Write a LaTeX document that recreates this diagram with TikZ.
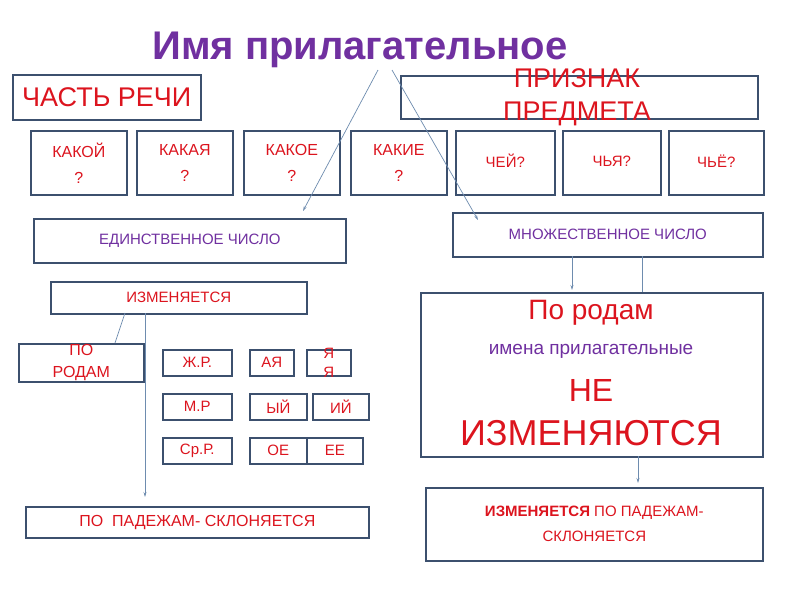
\documentclass[tikz,border=0pt]{standalone}
\usepackage{fontspec}
\setmainfont{Liberation Sans}
\usetikzlibrary{arrows.meta}
\definecolor{bx}{RGB}{60,80,110}
\definecolor{rd}{RGB}{220,20,30}
\definecolor{pu}{RGB}{112,48,160}
\definecolor{ln}{RGB}{110,140,175}
\tikzset{
 bxs/.style={draw=bx,line width=1.6pt,inner sep=0pt,anchor=north west},
 red14/.style={text=rd,font=\fontsize{15}{18}\selectfont},
 qq/.style={text=rd,align=center,font=\fontsize{16}{26}\selectfont},
 cn/.style={draw=ln,line width=0.7pt},
 ar/.style={cn,-{Stealth[length=5pt,width=3pt]}}
}
\newcommand\bxx[5]{\node[bxs,minimum width=#4-#2,minimum height=#5-#3] (#1) at (#2,#3) {};}
\begin{document}
\begin{tikzpicture}[x=1pt,y=-1pt]
\useasboundingbox (0,0) rectangle (800,600);
\fill[white] (0,0) rectangle (800,600);
\bxx{cr}{12}{74}{200}{119}
\bxx{pr}{400}{75}{757}{118}
\bxx{q1}{30}{130}{126}{194}
\bxx{q2}{136}{130}{232}{194}
\bxx{q3}{243}{130}{339}{194}
\bxx{q4}{350}{130}{446}{194}
\bxx{q5}{455}{130}{554}{194}
\bxx{q6}{562}{130}{660}{194}
\bxx{q7}{668}{130}{763}{194}
\bxx{ed}{33}{218}{345}{262}
\bxx{mn}{452}{212}{762}{256}
\bxx{iz}{50}{281}{306}{313}
\bxx{big}{420}{292}{762}{456}
\bxx{pr2}{18}{343}{143}{381}
\bxx{zr}{162}{349}{231}{375}
\bxx{aya}{249}{349}{293}{375}
\bxx{yaya}{306}{349}{350}{375}
\bxx{mr}{162}{393}{231}{419}
\bxx{yj}{249}{393}{306}{419}
\bxx{ij}{312}{393}{368}{419}
\bxx{sr}{162}{437}{231}{463}
\bxx{oe}{249}{437}{306}{463}
\bxx{ee}{306}{437}{362}{463}
\bxx{pp}{25}{506}{368}{537}
\bxx{br}{425}{487}{762}{560}
% texts
\node[text=pu,font=\bfseries\fontsize{40}{44}\selectfont] (title) at (360,50) {Имя прилагательное};
\node[text=rd,font=\fontsize{27}{30}\selectfont] at (cr.center) {ЧАСТЬ РЕЧИ};
\node[text=rd,font=\fontsize{27}{33}\selectfont,align=center] at (577,97) {ПРИЗНАК\\ПРЕДМЕТА};
\node[qq] at (q1.center) {КАКОЙ\\?};
\node[qq] at (q2.center) {КАКАЯ\\?};
\node[qq] at (q3.center) {КАКОЕ\\?};
\node[qq] at (q4.center) {КАКИЕ\\?};
\node[red14] at ([yshift=2]q5.center) {ЧЕЙ?};
\node[red14] at ([yshift=2]q6.center) {ЧЬЯ?};
\node[red14] at ([yshift=2]q7.center) {ЧЬЁ?};
\node[text=pu,font=\fontsize{15}{18}\selectfont] at (ed.center) {ЕДИНСТВЕННОЕ ЧИСЛО};
\node[text=pu,font=\fontsize{15}{18}\selectfont] at (mn.center) {МНОЖЕСТВЕННОЕ ЧИСЛО};
\node[red14] at (iz.center) {ИЗМЕНЯЕТСЯ};
\node[red14,align=center,font=\fontsize{16}{22}\selectfont] at (pr2.center) {ПО\\РОДАМ};
\node[red14] at (zr.center) {Ж.Р.};
\node[red14] at (aya.center) {АЯ};
\node[red14] at (mr.center) {М.Р};
\node[red14] at (yj.center) {ЫЙ};
\node[red14] at (ij.center) {ИЙ};
\node[red14] at (sr.center) {Ср.Р.};
\node[red14] at (oe.center) {ОЕ};
\node[red14] at (ee.center) {ЕЕ};
\node[red14,align=center,font=\fontsize{15}{19}\selectfont] at (yaya.center) {Я\\Я};
\node[red14,font=\fontsize{16}{18}\selectfont] at (pp.center) {ПО\ \ ПАДЕЖАМ- СКЛОНЯЕТСЯ};
\node[text=rd,font=\fontsize{28}{30}\selectfont] at (591,313) {По родам};
\node[text=pu,font=\fontsize{19}{22}\selectfont] at (591,351) {имена прилагательные};
\node[text=rd,font=\fontsize{32}{34}\selectfont] at (591,390) {НЕ};
\node[text=rd,font=\fontsize{36}{38}\selectfont] at (591,433) {ИЗМЕНЯЮТСЯ};
\node[text=rd,font=\fontsize{15}{25}\selectfont,align=center] at (br.center) {\textbf{ИЗМЕНЯЕТСЯ} ПО ПАДЕЖАМ-\\СКЛОНЯЕТСЯ};
% connectors
\coordinate (t1) at (378,70);
\coordinate (t2) at (392,70);
\coordinate (e1) at (303,211);
\coordinate (e2) at (478,220);
\draw[ar] (t1) -- (e1);
\draw[ar] (t2) -- (e2);
\draw[ar] (572,256) -- (572,290);
\draw[cn] (642,256) -- (642,292);
\draw[cn] (125,313) -- (115,343);
\draw[ar] (145,313) -- (145,497);
\draw[ar] (638,456) -- (638,483);
\end{tikzpicture}
\end{document}
